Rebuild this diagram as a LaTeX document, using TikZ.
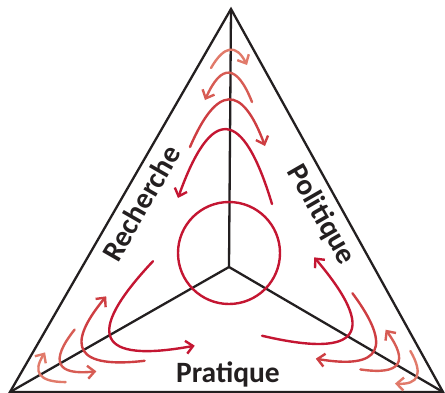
\documentclass[tikz,border=0pt]{standalone}
\usepackage{fontspec}
\setmainfont{Carlito}
\usetikzlibrary{arrows.meta}
\definecolor{ink}{RGB}{35,31,32}
\definecolor{cA}{RGB}{196,22,50}
\definecolor{cB}{RGB}{206,62,66}
\definecolor{cC}{RGB}{215,92,84}
\definecolor{cD}{RGB}{225,122,106}
\newcommand\myarcset{%
  \draw[myarc,cA,barbstart] (178,198) .. controls (211.3,104.7) and (242.7,106.7) .. (272,204);
  \draw[myarc,cB,barbend] (190,147) .. controls (217,84.3) and (242,84) .. (265,146);
  \draw[myarc,cC,barbstart] (205,100) .. controls (221.3,63.3) and (237,64) .. (252,102);
  \draw[myarc,cD,barbend] (211,68) .. controls (224.3,45) and (236.3,44) .. (247,65);
}
\begin{document}
\begin{tikzpicture}[x=1pt,y=-1pt,
  edgeline/.style={draw=ink,line width=2.3pt,line join=miter},
  myarc/.style={line width=2.4pt,line cap=round},
  barbstart/.style={{Straight Barb[length=7pt,width=13pt]}-},
  barbend/.style={-{Straight Barb[length=7pt,width=13pt]}},
  lab/.style={font=\fontsize{29.5}{30}\selectfont\bfseries,text=ink,inner sep=0pt}]
\useasboundingbox (0,0) rectangle (445,392);
\coordinate (T) at (231,9);
\coordinate (L) at (10,392);
\coordinate (R) at (443,392);
\coordinate (O) at (229,267);
\coordinate (C) at (229,253);
\draw[edgeline] (T) -- (L) -- (R) -- cycle;
\draw[edgeline] (O) -- (T) (O) -- (L) (O) -- (R);
\draw[cA,line width=2.4pt] (C) circle[radius=51pt];
\myarcset
\begin{scope}[rotate around={120:(O)}]\myarcset\end{scope}
\begin{scope}[rotate around={240:(O)}]\myarcset\end{scope}
\node[lab,rotate=60,anchor=base] (rech) at (150,208) {Recherche};
\node[lab,rotate=-60,anchor=base] (poli) at (314,219) {Politique};
\node[lab,anchor=base] (prat) at (228,382) {Pratique};
\end{tikzpicture}
\end{document}
